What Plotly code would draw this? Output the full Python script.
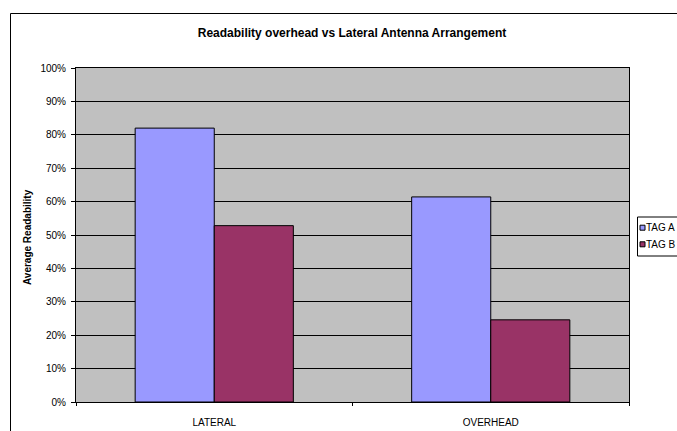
import plotly.graph_objects as go

categories = ["LATERAL", "OVERHEAD"]
tag_a = [0.82, 0.614]
tag_b = [0.528, 0.246]
series_names = ["TAG A", "TAG B"]
series_colors = ["#9999FF", "#993366"]
y_ticks = [0, 0.1, 0.2, 0.3, 0.4, 0.5, 0.6, 0.7, 0.8, 0.9, 1.0]
y_tick_labels = ["0%", "10%", "20%", "30%", "40%", "50%", "60%", "70%", "80%", "90%", "100%"]

W, H = 677, 431
L, T = 76, 68
R = W - 629
B = H - 402
pw = W - L - R
ph = H - T - B

def px_x(x):
    return (x - L) / pw

def px_y(y):
    return (H - B - y) / ph

fig = go.Figure()
for name, vals, col in zip(series_names, [tag_a, tag_b], series_colors):
    fig.add_trace(go.Bar(x=categories, y=vals, name=name,
                         marker=dict(color=col, line=dict(color="#000000", width=1))))

shapes = [
    # outer chart border
    dict(type="rect", xref="paper", yref="paper",
         x0=px_x(10.5), x1=px_x(700), y0=px_y(460), y1=px_y(13.5),
         line=dict(color="#000000", width=1), fillcolor="rgba(0,0,0,0)", layer="below"),
    # legend box
    dict(type="rect", xref="paper", yref="paper",
         x0=px_x(637.5), x1=px_x(720), y0=px_y(256), y1=px_y(217),
         line=dict(color="#000000", width=1), fillcolor="white", layer="above"),
]
annotations = [
    dict(text="<b>Average Readability</b>", xref="paper", yref="paper",
         x=px_x(28), y=px_y(237), xanchor="center", yanchor="middle",
         textangle=-90, showarrow=False, font=dict(size=10, color="#000000")),
]
row_y = [227.7, 244.3]
for name, col, ry in zip(series_names, series_colors, row_y):
    shapes.append(dict(type="rect", xref="paper", yref="paper",
                       x0=px_x(640), x1=px_x(645), y0=px_y(ry + 2.5), y1=px_y(ry - 2.5),
                       line=dict(color="#000000", width=1), fillcolor=col, layer="above"))
    annotations.append(dict(text=name, xref="paper", yref="paper",
                            x=px_x(643.5), y=px_y(ry), xanchor="left", yanchor="middle",
                            showarrow=False, font=dict(size=10, color="#000000")))

fig.update_layout(
    width=W, height=H,
    margin=dict(l=L, r=R, t=T, b=B, pad=0),
    paper_bgcolor="white",
    plot_bgcolor="#C0C0C0",
    barmode="group",
    bargap=0.428,
    bargroupgap=0,
    font=dict(family="Arial, Liberation Sans, sans-serif", size=10, color="#000000"),
    title=dict(text="<b>Readability overhead vs Lateral Antenna Arrangement</b>",
               x=px_x(352), xref="paper", xanchor="center",
               y=1 - 33 / H, yanchor="middle",
               font=dict(size=12, color="#000000")),
    showlegend=False,
    hovermode=False,
    xaxis=dict(showline=True, linecolor="#000000", linewidth=1, mirror=True,
               ticks="outside", ticklen=3, tickcolor="#000000",
               tickson="boundaries", showgrid=False, automargin=False,
               tickfont=dict(size=10), ticklabelstandoff=11),
    yaxis=dict(range=[0, 1], tickvals=y_ticks, ticktext=y_tick_labels,
               showline=True, linecolor="#000000", linewidth=1, mirror=True,
               ticks="outside", ticklen=4, tickcolor="#000000",
               showgrid=True, gridcolor="#000000", gridwidth=1,
               zeroline=False, tickfont=dict(size=10), ticklabelstandoff=3),
    shapes=shapes,
    annotations=annotations,
)

fig.write_html(
    "out.html",
    config={"displayModeBar": False},
    post_script="document.body.style.margin='0';document.body.style.overflow='hidden';",
)
